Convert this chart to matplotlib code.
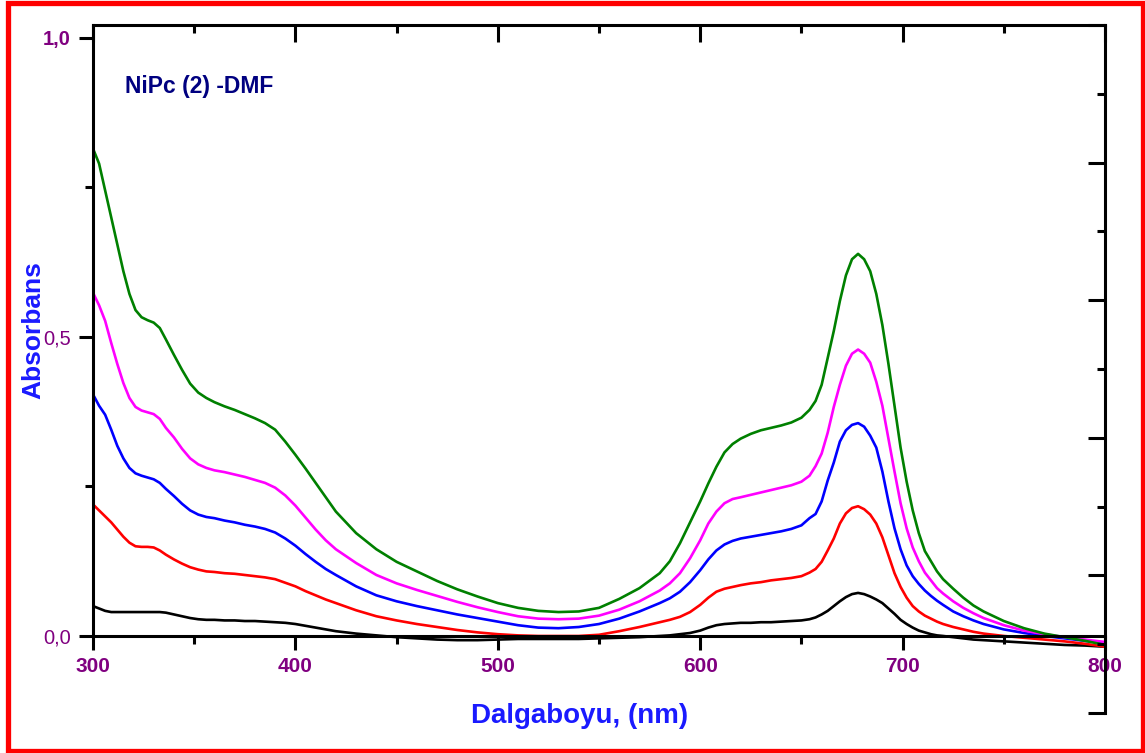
import matplotlib
matplotlib.use("Agg")
import matplotlib.pyplot as plt
from matplotlib.patches import Rectangle
from matplotlib.ticker import MultipleLocator

plt.rcParams['font.family'] = ['Liberation Sans', 'DejaVu Sans']

wavelength = [300, 303, 306, 309, 312, 315, 318, 321, 324, 327,
              330, 333, 336, 340, 344, 348, 352, 356, 360, 365,
              370, 375, 380, 385, 390, 395, 400, 405, 410, 415,
              420, 430, 440, 450, 460, 470, 480, 490, 500, 510,
              520, 530, 540, 550, 560, 570, 580, 585, 590, 595,
              600, 604, 608, 612, 616, 620, 625, 630, 635, 640,
              645, 650, 654, 657, 660, 663, 666, 669, 672, 675,
              678, 681, 684, 687, 690, 693, 696, 699, 702, 705,
              708, 711, 714, 717, 720, 725, 730, 735, 740, 750,
              760, 770, 780, 790, 800]

green = [0.815, 0.79, 0.745, 0.70, 0.655, 0.61, 0.572, 0.545, 0.533, 0.528,
         0.524, 0.515, 0.496, 0.47, 0.445, 0.422, 0.407, 0.398, 0.391, 0.384,
         0.378, 0.371, 0.364, 0.356, 0.345, 0.325, 0.303, 0.28, 0.256, 0.232,
         0.208, 0.172, 0.145, 0.124, 0.108, 0.092, 0.078, 0.066, 0.055, 0.047,
         0.042, 0.040, 0.041, 0.047, 0.062, 0.080, 0.105, 0.125, 0.155, 0.19,
         0.225, 0.255, 0.283, 0.307, 0.321, 0.330, 0.338, 0.344, 0.348, 0.352,
         0.357, 0.365, 0.378, 0.393, 0.42, 0.465, 0.51, 0.56, 0.603, 0.63,
         0.639, 0.630, 0.610, 0.572, 0.52, 0.455, 0.385, 0.315, 0.258, 0.21,
         0.172, 0.142, 0.125, 0.108, 0.095, 0.079, 0.064, 0.051, 0.041, 0.025,
         0.013, 0.004, -0.002, -0.008, -0.015]

magenta = [0.574, 0.553, 0.527, 0.49, 0.455, 0.423, 0.398, 0.383, 0.377, 0.374,
           0.371, 0.363, 0.348, 0.332, 0.313, 0.297, 0.287, 0.281, 0.277, 0.274,
           0.270, 0.266, 0.261, 0.256, 0.248, 0.235, 0.218, 0.198, 0.178, 0.160,
           0.145, 0.122, 0.102, 0.088, 0.077, 0.067, 0.057, 0.048, 0.040, 0.033,
           0.029, 0.028, 0.029, 0.034, 0.044, 0.058, 0.076, 0.088, 0.105, 0.13,
           0.16, 0.188, 0.208, 0.222, 0.229, 0.232, 0.236, 0.240, 0.244, 0.248,
           0.252, 0.258, 0.268, 0.284, 0.305, 0.34, 0.383, 0.42, 0.452, 0.472,
           0.479, 0.472, 0.457, 0.425, 0.385, 0.33, 0.275, 0.222, 0.180, 0.148,
           0.125, 0.106, 0.093, 0.080, 0.071, 0.058, 0.047, 0.038, 0.030, 0.018,
           0.009, 0.003, -0.002, -0.006, -0.010]

blue = [0.404, 0.385, 0.37, 0.345, 0.318, 0.297, 0.281, 0.272, 0.268, 0.265,
        0.262, 0.256, 0.246, 0.234, 0.221, 0.210, 0.203, 0.199, 0.197, 0.193,
        0.190, 0.186, 0.183, 0.179, 0.173, 0.163, 0.151, 0.137, 0.124, 0.112,
        0.102, 0.083, 0.068, 0.058, 0.050, 0.043, 0.036, 0.030, 0.024, 0.018,
        0.014, 0.013, 0.015, 0.020, 0.029, 0.041, 0.055, 0.063, 0.074, 0.09,
        0.11, 0.128, 0.143, 0.153, 0.159, 0.163, 0.166, 0.169, 0.172, 0.175,
        0.179, 0.185, 0.197, 0.204, 0.225, 0.26, 0.29, 0.325, 0.344, 0.353,
        0.356, 0.350, 0.335, 0.315, 0.275, 0.225, 0.18, 0.145, 0.118, 0.100,
        0.087, 0.076, 0.067, 0.059, 0.052, 0.041, 0.033, 0.026, 0.020, 0.011,
        0.005, 0.0, -0.004, -0.008, -0.012]

red = [0.220, 0.210, 0.200, 0.190, 0.178, 0.166, 0.156, 0.150, 0.149, 0.149,
       0.148, 0.143, 0.136, 0.128, 0.121, 0.115, 0.111, 0.108, 0.107, 0.105,
       0.104, 0.102, 0.100, 0.098, 0.095, 0.089, 0.083, 0.075, 0.068, 0.061,
       0.055, 0.043, 0.033, 0.026, 0.020, 0.015, 0.010, 0.006, 0.003, 0.001,
       0.0, 0.0, 0.0, 0.002, 0.008, 0.015, 0.023, 0.027, 0.032, 0.040,
       0.052, 0.064, 0.074, 0.079, 0.082, 0.085, 0.088, 0.090, 0.093, 0.095,
       0.097, 0.100, 0.106, 0.112, 0.124, 0.143, 0.163, 0.188, 0.205, 0.214,
       0.217, 0.212, 0.203, 0.188, 0.165, 0.135, 0.105, 0.082, 0.064, 0.050,
       0.041, 0.034, 0.029, 0.024, 0.020, 0.015, 0.011, 0.007, 0.004, 0.0,
       -0.003, -0.006, -0.009, -0.013, -0.018]

black = [0.05, 0.046, 0.042, 0.040, 0.040, 0.040, 0.040, 0.040, 0.040, 0.040,
         0.040, 0.040, 0.039, 0.036, 0.033, 0.030, 0.028, 0.027, 0.027, 0.026,
         0.026, 0.025, 0.025, 0.024, 0.023, 0.022, 0.020, 0.017, 0.014, 0.011,
         0.008, 0.004, 0.001, -0.002, -0.004, -0.006, -0.007, -0.007, -0.006, -0.005,
         -0.005, -0.005, -0.005, -0.004, -0.003, -0.002, 0.0, 0.001, 0.003, 0.005,
         0.009, 0.014, 0.018, 0.020, 0.021, 0.022, 0.022, 0.023, 0.023, 0.024,
         0.025, 0.026, 0.028, 0.031, 0.036, 0.042, 0.050, 0.058, 0.065, 0.070,
         0.072, 0.070, 0.066, 0.061, 0.055, 0.046, 0.037, 0.027, 0.020, 0.014,
         0.009, 0.006, 0.003, 0.001, 0.0, -0.002, -0.004, -0.006, -0.007, -0.009,
         -0.011, -0.013, -0.015, -0.016, -0.018]

series = [(black, 'black'), (red, '#FF0000'), (blue, '#0000FF'), (magenta, '#FF00FF'), (green, '#008000')]

x_ticks = [300, 400, 500, 600, 700, 800]
y_ticks = [0.0, 0.5, 1.0]
y_ticklabels = ['0,0', '0,5', '1,0']

W, H = 1145, 753
fig = plt.figure(figsize=(W / 100, H / 100), dpi=100)

left, right, top, bottom = 93, 1105, 25, 713
ax = fig.add_axes([left / W, 1 - bottom / H, (right - left) / W, (bottom - top) / H])

for vals, col in series:
    ax.plot(wavelength, vals, color=col, lw=1.9, solid_joinstyle='round')

ax.set_xlim(300, 800)
ax.set_ylim(-0.1288, 1.0217)

spine_lw = 2.2
for s in ['top', 'right']:
    ax.spines[s].set_visible(False)
ax.spines['bottom'].set_position(('data', 0))
ax.spines['left'].set_bounds(0, 1.0217)
ax.spines['bottom'].set_linewidth(spine_lw)
ax.spines['left'].set_linewidth(spine_lw)

# top axis with inward ticks
axt = ax.twiny()
axt.set_xlim(300, 800)
axt.set_xticks(x_ticks)
axt.xaxis.set_minor_locator(MultipleLocator(50))
axt.tick_params(axis='x', which='major', direction='in', length=12, width=spine_lw, labeltop=False)
axt.tick_params(axis='x', which='minor', direction='in', length=6, width=spine_lw)
for s in ['bottom', 'left', 'right']:
    axt.spines[s].set_visible(False)
axt.spines['top'].set_linewidth(spine_lw)

# right axis with inward ticks
axr = ax.twinx()
axr.set_ylim(0, 10)
axr.yaxis.set_major_locator(MultipleLocator(2))
axr.yaxis.set_minor_locator(MultipleLocator(1))
axr.tick_params(axis='y', which='major', direction='in', length=12, width=spine_lw, labelright=False)
axr.tick_params(axis='y', which='minor', direction='in', length=6, width=spine_lw)
for s in ['bottom', 'left', 'top']:
    axr.spines[s].set_visible(False)
axr.spines['right'].set_linewidth(spine_lw)

# main axis ticks and labels
ax.set_xticks(x_ticks)
ax.xaxis.set_minor_locator(MultipleLocator(50))
ax.set_yticks(y_ticks)
ax.set_yticklabels(y_ticklabels)
ax.yaxis.set_minor_locator(MultipleLocator(0.25))
ax.tick_params(axis='both', which='major', direction='out', length=10, width=spine_lw)
ax.tick_params(axis='both', which='minor', direction='out', length=6, width=spine_lw)
ax.tick_params(axis='x', which='major', labelsize=15, labelcolor='#800080', pad=5)
ax.tick_params(axis='y', which='major', labelsize=14.5, labelcolor='#800080', pad=6)
for lab in ax.get_xticklabels():
    lab.set_fontweight('bold')
for lab, bold in zip(ax.get_yticklabels(), [False, False, True]):
    lab.set_fontweight('bold' if bold else 'normal')

fig.text(125 / W, 1 - 87 / H, 'NiPc (2) -DMF',
         fontsize=16.5, fontweight='bold', color='#000080', ha='left', va='center')

fig.text(33 / W, 1 - 330 / H, 'Absorbans', rotation=90, fontsize=19, fontweight='bold',
         color='#1A1AFF', ha='center', va='center')
fig.text(580 / W, 1 - 716 / H, 'Dalgaboyu, (nm)', fontsize=20, fontweight='bold',
         color='#1A1AFF', ha='center', va='center')

fig.patches.append(Rectangle((7.5 / W, 1 - 750.5 / H), (1142.5 - 7.5) / W, (750.5 - 3) / H,
                             transform=fig.transFigure, fill=False, edgecolor='#FF0000',
                             linewidth=3.8, zorder=10))

fig.savefig('out.png', dpi=100)
